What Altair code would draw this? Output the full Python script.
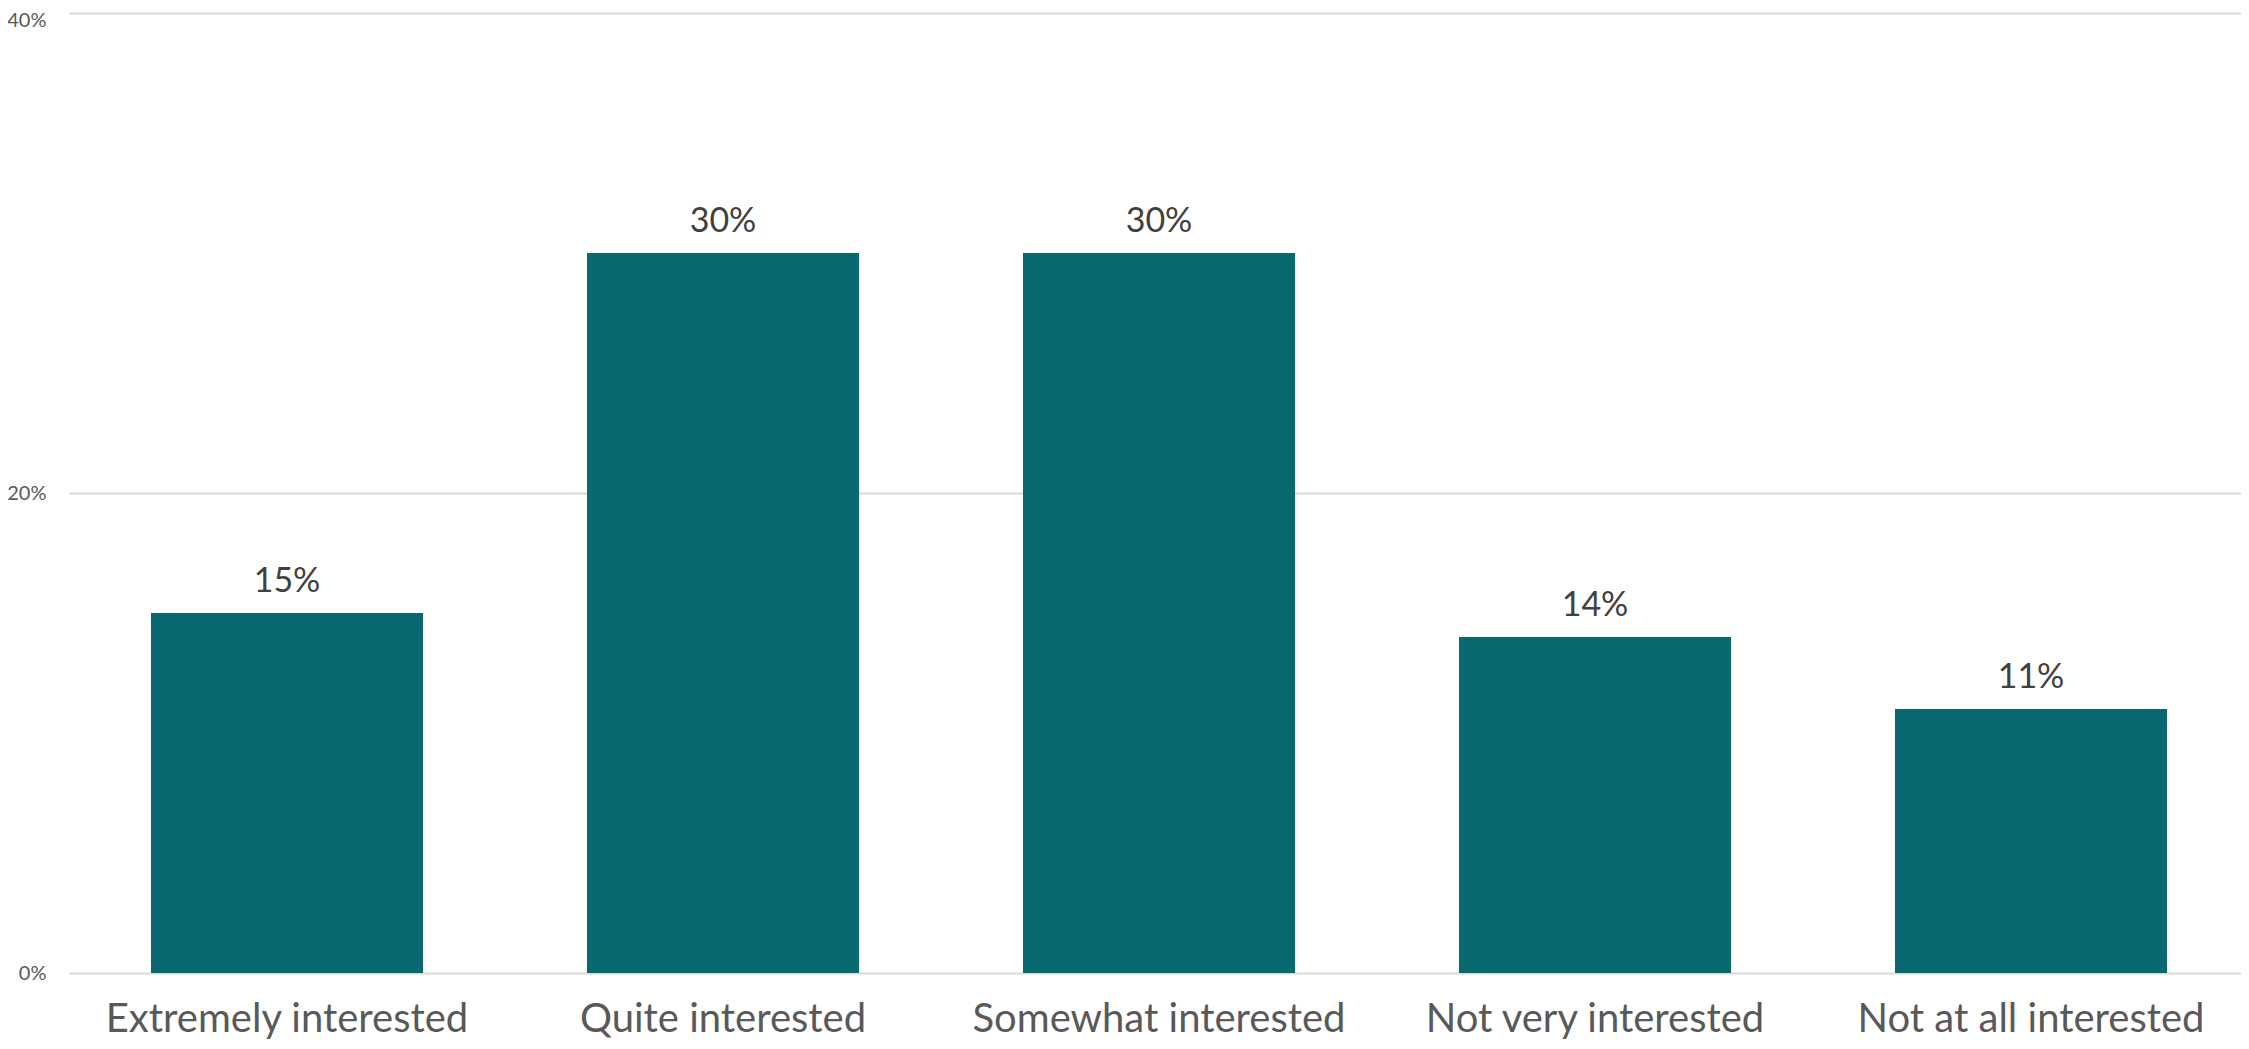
import altair as alt
import pandas as pd

categories = ["Extremely interested", "Quite interested", "Somewhat interested",
              "Not very interested", "Not at all interested"]
values = [15, 30, 30, 14, 11]
y_ticks = [0, 20, 40]

df = pd.DataFrame({"category": categories, "value": values})

FONT = "Lato"

x = alt.X("category:N", sort=categories, title=None,
          scale=alt.Scale(paddingInner=0.376, paddingOuter=0.188),
          axis=alt.Axis(labelAngle=0, ticks=False, tickSize=0, domain=False,
                        labelPadding=58, labelBaseline="alphabetic",
                        labelFontSize=40, labelColor="#595959", labelFont=FONT,
                        labelLimit=0))
y = alt.Y("value:Q", title=None,
          scale=alt.Scale(domain=[0, 40], nice=False),
          axis=alt.Axis(values=y_ticks, labelExpr="datum.value + '%'",
                        ticks=False, tickSize=0, domain=False, labelPadding=23,
                        labelFontSize=20, labelColor="#595959", labelFont=FONT,
                        labelOffset={"condition": {"test": "datum.value == 40", "value": 7},
                                     "value": 0},
                        gridColor="#D9D9D9", gridWidth=2))

base = alt.Chart(df).encode(x=x, y=y)

bars = base.mark_bar(color="#0A6970")
labels = base.mark_text(baseline="alphabetic", dy=-21, fontSize=34,
                        font=FONT, color="#404040").encode(
    text=alt.Text("label:N")
).transform_calculate(label="datum.value + '%'")

chart = (bars + labels).properties(
    width=2180, height=960,
    autosize=alt.AutoSizeParams(type="none"),
    padding={"left": 61, "top": 5, "right": -8, "bottom": 68},
).configure_view(stroke=None)

chart.save("out.html", embed_options={"renderer": "svg", "actions": False})
